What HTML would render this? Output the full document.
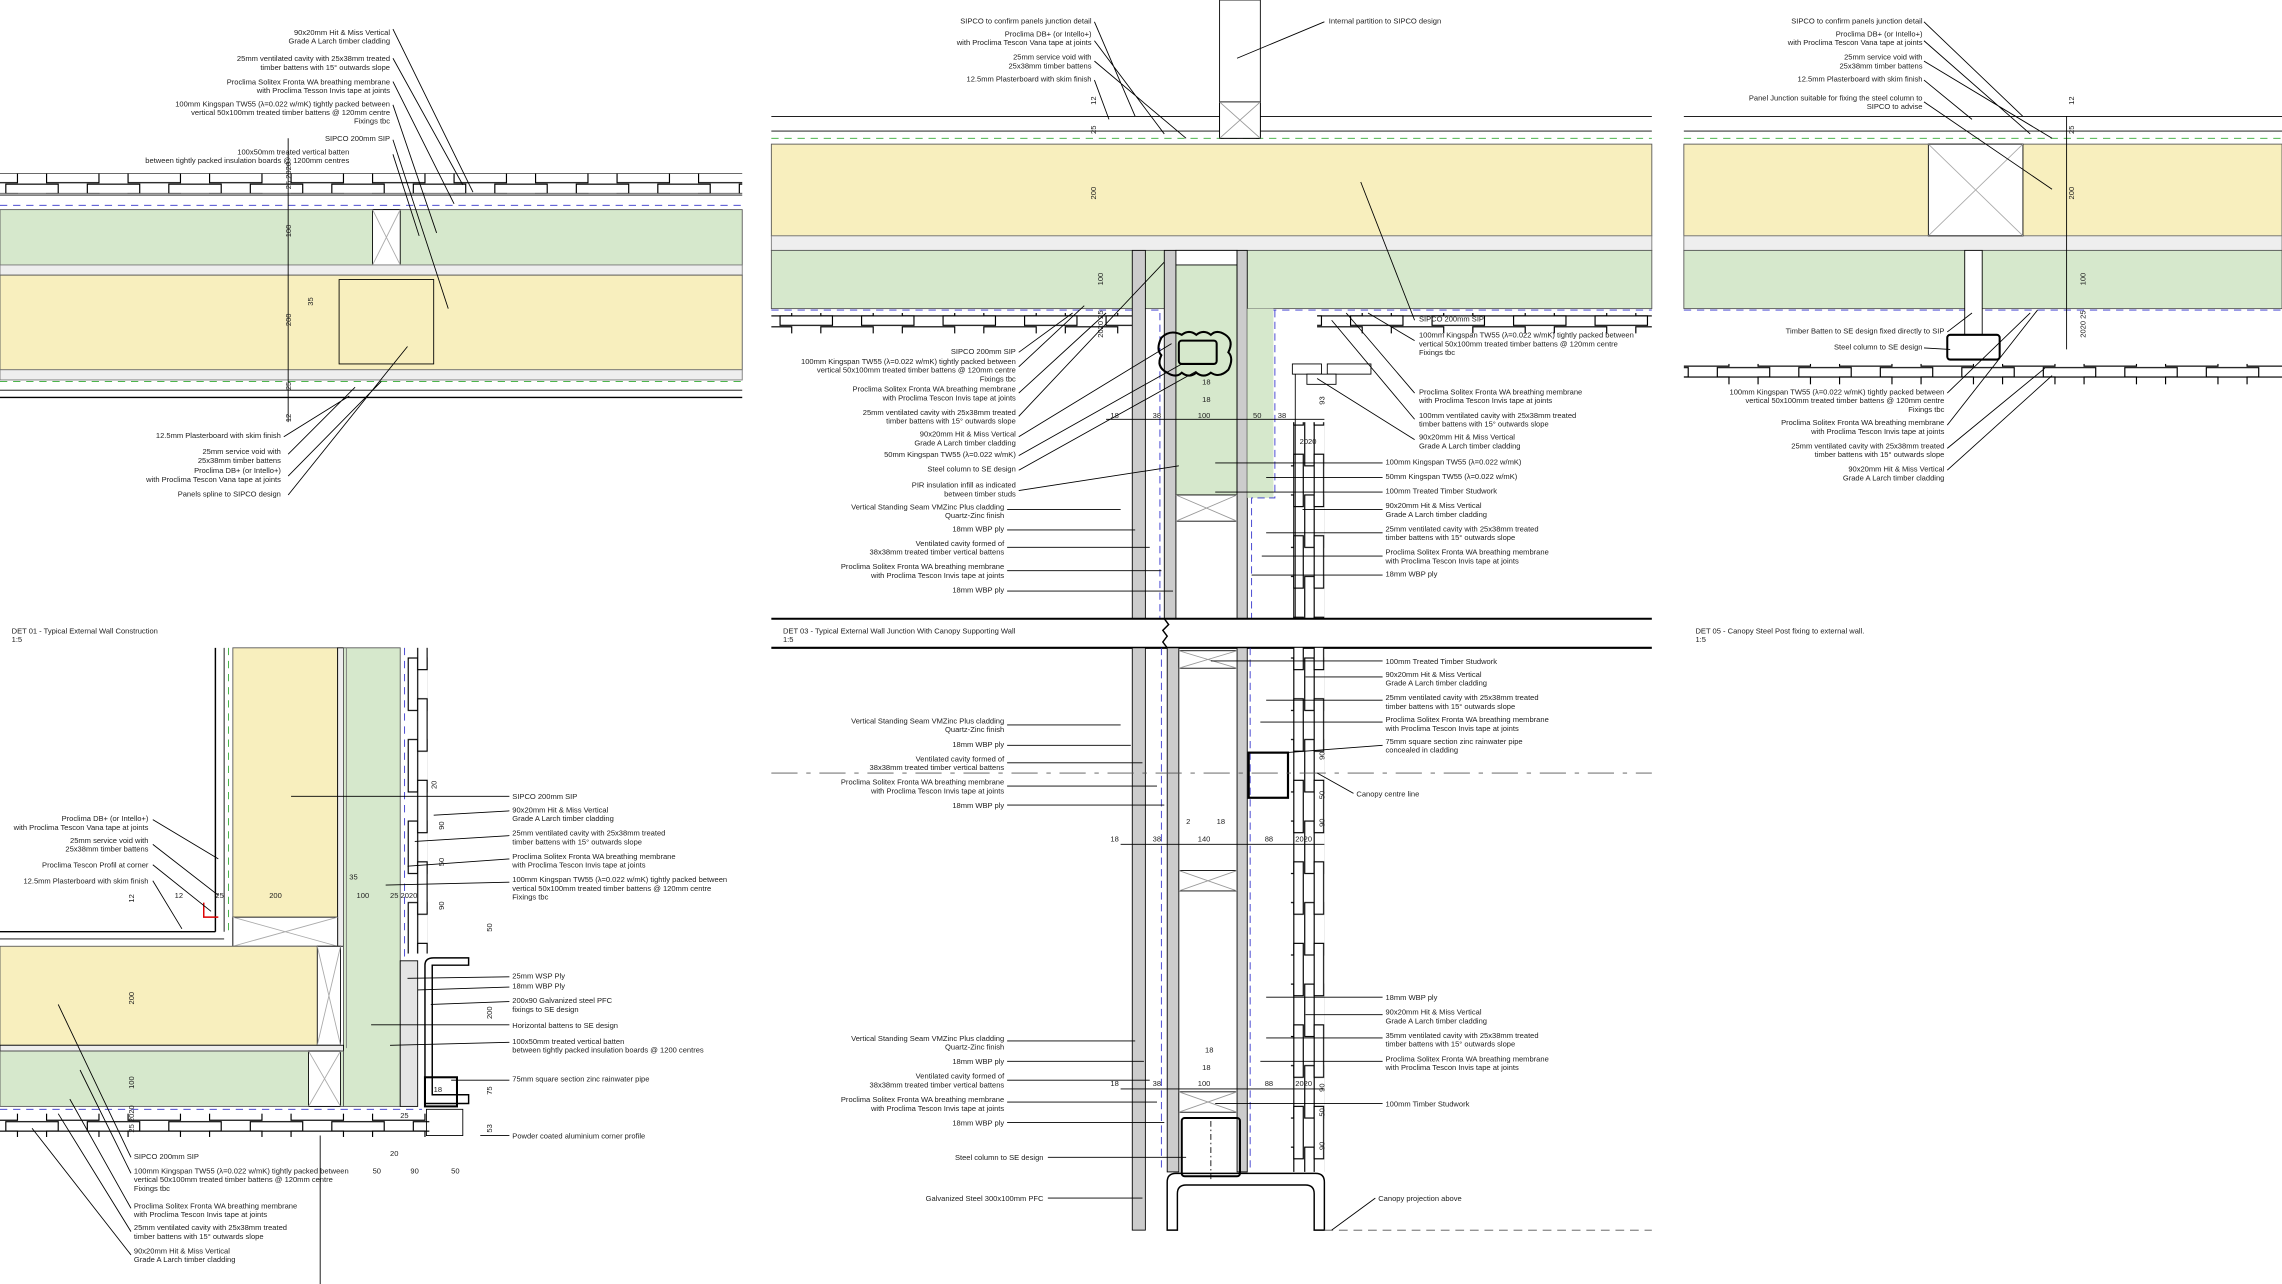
<!DOCTYPE html>
<html><head><meta charset="utf-8"><style>
html,body{margin:0;padding:0;background:#fff;}
svg{display:block;}
text{font-family:"Liberation Sans",sans-serif;font-size:5.2px;fill:#222;}
.r{text-anchor:end;}
.s{font-size:5px;}
</style></head><body>
<svg width="2282" height="1284" viewBox="0 0 1568 882" preserveAspectRatio="none" xmlns="http://www.w3.org/2000/svg">
<defs>
<pattern id="hc" width="56" height="14" patternUnits="userSpaceOnUse">
<rect x="4" y="0.5" width="36" height="6.5" fill="#fff" stroke="#000" stroke-width="0.8"/>
<rect x="-24" y="7" width="36" height="6.5" fill="#fff" stroke="#000" stroke-width="0.8"/>
<rect x="32" y="7" width="36" height="6.5" fill="#fff" stroke="#000" stroke-width="0.8"/>
</pattern>
<pattern id="vc" width="14" height="56" patternUnits="userSpaceOnUse">
<rect x="0.5" y="4" width="6.5" height="36" fill="#fff" stroke="#000" stroke-width="0.8"/>
<rect x="7" y="-24" width="6.5" height="36" fill="#fff" stroke="#000" stroke-width="0.8"/>
<rect x="7" y="32" width="6.5" height="36" fill="#fff" stroke="#000" stroke-width="0.8"/>
</pattern>
</defs>
<g stroke="#000" stroke-width="0.6" fill="none">
<!-- ===== TOP LEFT DET 01 ===== -->
<rect x="0" y="119" width="510" height="14" fill="url(#hc)" stroke="none"/>
<line x1="0" y1="134" x2="510" y2="134"/>
<line x1="0" y1="141" x2="510" y2="141" stroke="#33c" stroke-dasharray="5,4"/>
<rect x="0" y="144" width="510" height="38" fill="#d6e8cc" stroke="#555"/>
<rect x="256" y="144" width="19" height="38" fill="#fff"/>
<path d="M256 144 L275 182 M275 144 L256 182" stroke="#aaa"/>
<rect x="0" y="182" width="510" height="7" fill="#eee" stroke="#777"/>
<rect x="0" y="189" width="510" height="65" fill="#f8efbe" stroke="#555"/>
<rect x="233" y="192" width="65" height="58" fill="#f8efbe"/>
<rect x="0" y="254" width="510" height="7" fill="#eee" stroke="#777"/>
<line x1="0" y1="262" x2="510" y2="262" stroke="#3a3" stroke-dasharray="5,4"/>
<line x1="0" y1="268" x2="510" y2="268"/>
<line x1="0" y1="273" x2="510" y2="273" stroke-width="1"/>
<line x1="198" y1="95" x2="198" y2="290"/>
<path d="M270 20 L325 132 M270 40 L318 127 M270 56 L312 140 M270 72 L300 160 M270 96 L308 212 M270 106 L288 162 M195 300 L240 272 M198 312 L244 266 M198 327 L262 262 M198 340 L280 238"/>
<!-- ===== TOP MIDDLE DET 03 ===== -->
<line x1="530" y1="80" x2="1135" y2="80"/>
<line x1="530" y1="90" x2="1135" y2="90"/>
<line x1="530" y1="95" x2="1135" y2="95" stroke="#3a3" stroke-dasharray="5,4"/>
<rect x="530" y="99" width="605" height="63" fill="#f8efbe" stroke="#555"/>
<rect x="530" y="162" width="605" height="10" fill="#eee" stroke="#777"/>
<rect x="530" y="172" width="605" height="40" fill="#d6e8cc" stroke="#555"/>
<line x1="530" y1="213" x2="1135" y2="213" stroke="#33c" stroke-dasharray="5,4"/>
<rect x="530" y="215" width="250" height="14" fill="url(#hc)" stroke="none"/>
<rect x="905" y="215" width="230" height="14" fill="url(#hc)" stroke="none"/>
<rect x="838" y="0" width="28" height="95" fill="#fff"/>
<rect x="838" y="70" width="28" height="25" fill="#fff"/>
<path d="M838 70 L866 95 M866 70 L838 95" stroke="#999"/>
<rect x="778" y="172" width="9" height="253" fill="#ccc"/>
<rect x="800" y="172" width="8" height="253" fill="#ccc"/>
<rect x="808" y="172" width="42" height="168" fill="#d6e8cc"/>
<rect x="808" y="172" width="42" height="10" fill="#fff"/>
<rect x="850" y="172" width="7" height="253" fill="#ccc"/>
<rect x="857" y="212" width="18" height="130" fill="#d6e8cc" stroke="none"/>
<path d="M797 215 L797 425 M876 213 L876 342 L860 342 L860 425" stroke="#33c" stroke-dasharray="5,3"/>
<rect x="808" y="340" width="42" height="18" fill="#fff"/>
<path d="M808 340 L850 358 M850 340 L808 358" stroke="#999"/>
<path d="M798 232 q-4 8 0 12 q-4 8 4 12 q6 4 10 0 q5 4 10 0 q5 4 10 0 q6 4 12 -2 q4 -8 0 -12 q4 -8 -2 -12 q-6 -4 -10 0 q-5 -4 -10 0 q-5 -4 -10 0 q-8 -4 -14 2z" stroke-width="1.4"/>
<rect x="810" y="234" width="26" height="16" rx="2" stroke-width="1.4"/>
<rect x="888" y="250" width="20" height="7" fill="#fff"/>
<rect x="912" y="250" width="30" height="7" fill="#fff"/>
<rect x="898" y="257" width="20" height="7" fill="#fff"/>
<rect x="887" y="290" width="23" height="135" fill="url(#vc)" stroke="none"/>
<line x1="890" y1="257" x2="890" y2="425"/>
<line x1="530" y1="425" x2="1135" y2="425" stroke-width="1.4"/>
<line x1="530" y1="445" x2="1135" y2="445" stroke-width="1.4"/>
<path d="M800 425 l3 4 -4 4 3 4 -3 4 3 4" stroke-width="1"/>
<rect x="778" y="445" width="9" height="400" fill="#ccc"/>
<rect x="802" y="445" width="8" height="360" fill="#ccc"/>
<rect x="850" y="445" width="7" height="360" fill="#ccc"/>
<path d="M798 445 L798 805 M859 445 L859 805" stroke="#33c" stroke-dasharray="5,3"/>
<rect x="810" y="447" width="40" height="12" fill="#fff"/>
<path d="M810 447 L850 459 M850 447 L810 459" stroke="#999"/>
<rect x="810" y="598" width="40" height="14" fill="#fff"/>
<path d="M810 598 L850 612 M850 598 L810 612" stroke="#999"/>
<rect x="810" y="750" width="40" height="14" fill="#fff"/>
<path d="M810 750 L850 764 M850 750 L810 764" stroke="#999"/>
<rect x="858" y="517" width="27" height="31" stroke-width="1.5"/>
<rect x="812" y="768" width="40" height="40" rx="2" stroke-width="1.4"/>
<line x1="832" y1="770" x2="832" y2="810" stroke-dasharray="4,2,1,2"/>
<path d="M802 845 L802 812 Q802 806 808 806 L904 806 Q910 806 910 812 L910 845 L903 845 L903 820 Q903 814 897 814 L815 814 Q809 814 809 820 L809 845 Z" stroke-width="1"/>
<rect x="887" y="445" width="23" height="360" fill="url(#vc)" stroke="none"/>
<line x1="530" y1="531" x2="1135" y2="531" stroke="#555" stroke-dasharray="18,6,3,6"/>
<line x1="910" y1="845" x2="1135" y2="845" stroke="#555" stroke-dasharray="6,4"/>
<line x1="760" y1="288" x2="910" y2="288"/>
<line x1="770" y1="580" x2="910" y2="580"/>
<line x1="770" y1="748" x2="910" y2="748"/>
<path d="M752 15 L780 80 M752 28 L800 92 M752 42 L815 95 M752 55 L762 82 M910 15 L850 40 M700 242 L737 215 M700 252 L745 210 M700 270 L760 215 M700 286 L800 180 M700 300 L805 236 M700 313 L812 250 M700 323 L822 255 M700 337 L810 320 M692 350 L770 350 M692 364 L780 364 M692 376 L790 376 M692 392 L798 392 M692 406 L806 406 M972 220 L935 125 M972 234 L940 215 M972 270 L925 215 M972 288 L915 220 M972 302 L905 260 M950 318 L835 318 M950 328 L870 328 M950 338 L835 338 M950 350 L895 350 M950 366 L870 366 M950 382 L867 382 M950 395 L860 395 M950 454 L832 454 M950 465 L897 465 M950 481 L870 481 M950 496 L866 496 M950 512 L883 517 M930 545 L905 531 M950 685 L870 685 M950 697 L897 697 M950 713 L870 713 M950 729 L866 729 M950 758 L835 758 M945 823 L915 845 M692 498 L770 498 M692 512 L777 512 M692 524 L785 524 M692 540 L795 540 M692 553 L800 553 M692 715 L780 715 M692 729 L786 729 M692 742 L790 742 M692 757 L795 757 M692 771 L800 771 M720 795 L815 795 M720 823 L785 823"/>
<!-- ===== TOP RIGHT DET 05 ===== -->
<line x1="1157" y1="80" x2="1568" y2="80"/>
<line x1="1157" y1="90" x2="1568" y2="90"/>
<line x1="1157" y1="95" x2="1568" y2="95" stroke="#3a3" stroke-dasharray="5,4"/>
<rect x="1157" y="99" width="411" height="63" fill="#f8efbe" stroke="#555"/>
<rect x="1157" y="162" width="411" height="10" fill="#eee" stroke="#777"/>
<rect x="1157" y="172" width="411" height="40" fill="#d6e8cc" stroke="#555"/>
<line x1="1157" y1="213" x2="1568" y2="213" stroke="#33c" stroke-dasharray="5,4"/>
<rect x="1325" y="99" width="65" height="63" fill="#fff"/>
<path d="M1325 99 L1390 162 M1390 99 L1325 162" stroke="#aaa"/>
<rect x="1350" y="172" width="12" height="58" fill="#fff"/>
<rect x="1338" y="230" width="36" height="17" rx="2" stroke-width="1.4"/>
<rect x="1157" y="250" width="411" height="14" fill="url(#hc)" stroke="none"/>
<line x1="1420" y1="80" x2="1420" y2="240"/>
<path d="M1322 15 L1390 80 M1322 28 L1395 92 M1322 42 L1410 95 M1322 55 L1355 82 M1322 70 L1410 130 M1338 228 L1355 215 M1322 239 L1340 240 M1338 270 L1395 215 M1338 292 L1400 213 M1338 308 L1405 253 M1338 323 L1410 258"/>
<!-- ===== BOTTOM LEFT DET 02 ===== -->
<line x1="148" y1="445" x2="148" y2="640" stroke-width="1"/>
<line x1="154" y1="445" x2="154" y2="640"/>
<line x1="0" y1="640" x2="148" y2="640" stroke-width="1"/>
<line x1="0" y1="645" x2="154" y2="645"/>
<rect x="160" y="445" width="72" height="205" fill="#f8efbe" stroke="#555"/>
<rect x="232" y="445" width="4" height="205" fill="#eee"/>
<rect x="236" y="445" width="39" height="315" fill="#d6e8cc" stroke="#555"/>
<rect x="160" y="630" width="72" height="20" fill="#fff"/>
<path d="M160 630 L232 650 M232 630 L160 650" stroke="#aaa"/>
<line x1="278" y1="445" x2="278" y2="660" stroke="#33c" stroke-dasharray="5,4"/>
<rect x="280" y="445" width="14" height="210" fill="url(#vc)" stroke="none"/>
<line x1="157" y1="445" x2="157" y2="640" stroke="#3a3" stroke-dasharray="5,4"/>
<rect x="0" y="650" width="232" height="68" fill="#f8efbe" stroke="#555"/>
<rect x="218" y="650" width="16" height="68" fill="#fff"/>
<path d="M218 650 L234 718 M234 650 L218 718" stroke="#aaa"/>
<rect x="0" y="718" width="236" height="4" fill="#eee"/>
<rect x="0" y="722" width="236" height="38" fill="#d6e8cc" stroke="#555"/>
<rect x="212" y="722" width="22" height="38" fill="#fff"/>
<path d="M212 722 L234 760 M234 722 L212 760" stroke="#aaa"/>
<line x1="0" y1="762" x2="290" y2="762" stroke="#33c" stroke-dasharray="5,4"/>
<rect x="0" y="765" width="295" height="16" fill="url(#hc)" stroke="none"/>
<rect x="275" y="660" width="12" height="100" fill="#e4e4e4"/>
<path d="M292 758 L292 663 Q292 658 298 658 L322 658 L322 663 L297 663 L297 752 L322 752 L322 758 Z" stroke-width="1"/>
<rect x="292" y="740" width="22" height="20" stroke-width="1.4"/>
<path d="M293 762 L318 762 L318 780 L293 780 Z"/>
<path d="M140 620 L140 630 L150 630" stroke="#d00" stroke-width="1"/>
<line x1="220" y1="780" x2="220" y2="882"/>
<line x1="238" y1="445" x2="238" y2="720" stroke="#777"/>
<path d="M105 563 L150 590 M105 580 L150 615 M105 594 L145 626 M105 605 L125 638 M350 547 L200 547 M350 557 L298 560 M350 574 L285 578 M350 590 L280 595 M350 606 L265 608 M350 671 L280 672 M350 678 L287 680 M350 688 L296 690 M350 704 L255 704 M350 716 L268 718 M350 742 L310 742 M350 780 L330 780 M90 795 L40 690 M90 806 L55 735 M90 830 L48 755 M90 846 L40 765 M90 862 L22 775"/>
</g>
<g class="s">
<text x="200" y="163" transform="rotate(-90 200 163)">100</text>
<text x="200" y="224" transform="rotate(-90 200 224)">200</text>
<text x="200" y="130" transform="rotate(-90 200 130)">25 2020</text>
<text x="200" y="268" transform="rotate(-90 200 268)">25</text>
<text x="200" y="290" transform="rotate(-90 200 290)">12</text>
<text x="215" y="210" transform="rotate(-90 215 210)">35</text>
<text x="753" y="137" transform="rotate(-90 753 137)">200</text>
<text x="758" y="196" transform="rotate(-90 758 196)">100</text>
<text x="753" y="92" transform="rotate(-90 753 92)">25</text>
<text x="753" y="72" transform="rotate(-90 753 72)">12</text>
<text x="758" y="232" transform="rotate(-90 758 232)">2020 25</text>
<text x="1425" y="137" transform="rotate(-90 1425 137)">200</text>
<text x="1433" y="196" transform="rotate(-90 1433 196)">100</text>
<text x="1433" y="232" transform="rotate(-90 1433 232)">2020 25</text>
<text x="1425" y="92" transform="rotate(-90 1425 92)">25</text>
<text x="1425" y="72" transform="rotate(-90 1425 72)">12</text>
<text x="763" y="287">18</text><text x="792" y="287">38</text><text x="823" y="287">100</text><text x="861" y="287">50</text><text x="878" y="287">38</text><text x="893" y="305">2020</text>
<text x="826" y="276">18</text><text x="826" y="264">18</text><text x="910" y="278" transform="rotate(-90 910 278)">93</text>
<text x="763" y="578">18</text><text x="792" y="578">38</text><text x="823" y="578">140</text><text x="869" y="578">88</text><text x="890" y="578">2020</text><text x="815" y="566">2</text><text x="836" y="566">18</text>
<text x="763" y="746">18</text><text x="792" y="746">38</text><text x="823" y="746">100</text><text x="869" y="746">88</text><text x="890" y="746">2020</text><text x="828" y="723">18</text><text x="826" y="735">18</text>
<text x="910" y="522" transform="rotate(-90 910 522)">90</text><text x="910" y="549" transform="rotate(-90 910 549)">50</text><text x="910" y="568" transform="rotate(-90 910 568)">90</text>
<text x="910" y="750" transform="rotate(-90 910 750)">90</text><text x="910" y="767" transform="rotate(-90 910 767)">50</text><text x="910" y="790" transform="rotate(-90 910 790)">90</text>
<text x="185" y="617">200</text><text x="240" y="604">35</text><text x="245" y="617">100</text><text x="120" y="617">12</text><text x="148" y="617">25</text><text x="268" y="617">25 2020</text>
<text x="92" y="620" transform="rotate(-90 92 620)">12</text><text x="92" y="690" transform="rotate(-90 92 690)">200</text><text x="92" y="748" transform="rotate(-90 92 748)">100</text><text x="92" y="778" transform="rotate(-90 92 778)">25 2020</text>
<text x="300" y="542" transform="rotate(-90 300 542)">20</text><text x="305" y="570" transform="rotate(-90 305 570)">90</text><text x="305" y="595" transform="rotate(-90 305 595)">50</text><text x="305" y="625" transform="rotate(-90 305 625)">90</text><text x="338" y="640" transform="rotate(-90 338 640)">50</text><text x="338" y="700" transform="rotate(-90 338 700)">200</text><text x="338" y="752" transform="rotate(-90 338 752)">75</text><text x="338" y="778" transform="rotate(-90 338 778)">53</text>
<text x="298" y="750">18</text><text x="275" y="768">25</text><text x="268" y="794">20</text><text x="256" y="806">50</text><text x="282" y="806">90</text><text x="310" y="806">50</text>
</g>
<text x="8" y="435">DET 01 - Typical External Wall Construction</text><text x="8" y="441">1:5</text>
<text x="538" y="435">DET 03 - Typical External Wall Junction With Canopy Supporting Wall</text><text x="538" y="441">1:5</text>
<text x="1165" y="435">DET 05 - Canopy Steel Post fixing to external wall.</text><text x="1165" y="441">1:5</text>
<g class="r">
<text x="268" y="24">90x20mm Hit &amp; Miss Vertical</text><text x="268" y="30">Grade A Larch timber cladding</text>
<text x="268" y="42">25mm ventilated cavity with 25x38mm treated</text><text x="268" y="48">timber battens with 15° outwards slope</text>
<text x="268" y="58">Proclima Solitex Fronta WA breathing membrane</text><text x="268" y="64">with Proclima Tesson Invis tape at joints</text>
<text x="268" y="73">100mm Kingspan TW55 (λ=0.022 w/mK) tightly packed between</text><text x="268" y="79">vertical 50x100mm treated timber battens @ 120mm centre</text><text x="268" y="85">Fixings tbc</text>
<text x="268" y="97">SIPCO 200mm SIP</text>
<text x="240" y="106">100x50mm treated vertical batten</text><text x="240" y="112">between tightly packed insulation boards @ 1200mm centres</text>
<text x="193" y="301">12.5mm Plasterboard with skim finish</text>
<text x="193" y="312">25mm service void with</text><text x="193" y="318">25x38mm timber battens</text>
<text x="193" y="325">Proclima DB+ (or Intello+)</text><text x="193" y="331">with Proclima Tescon Vana tape at joints</text>
<text x="193" y="341">Panels spline to SIPCO design</text>
<text x="750" y="16">SIPCO to confirm panels junction detail</text>
<text x="750" y="25">Proclima DB+ (or Intello+)</text><text x="750" y="31">with Proclima Tescon Vana tape at joints</text>
<text x="750" y="41">25mm service void with</text><text x="750" y="47">25x38mm timber battens</text>
<text x="750" y="56">12.5mm Plasterboard with skim finish</text>
<text x="698" y="243">SIPCO 200mm SIP</text>
<text x="698" y="250">100mm Kingspan TW55 (λ=0.022 w/mK) tightly packed between</text><text x="698" y="256">vertical 50x100mm treated timber battens @ 120mm centre</text><text x="698" y="262">Fixings tbc</text>
<text x="698" y="269">Proclima Solitex Fronta WA breathing membrane</text><text x="698" y="275">with Proclima Tescon Invis tape at joints</text>
<text x="698" y="285">25mm ventilated cavity with 25x38mm treated</text><text x="698" y="291">timber battens with 15° outwards slope</text>
<text x="698" y="300">90x20mm Hit &amp; Miss Vertical</text><text x="698" y="306">Grade A Larch timber cladding</text>
<text x="698" y="314">50mm Kingspan TW55 (λ=0.022 w/mK)</text>
<text x="698" y="324">Steel column to SE design</text>
<text x="698" y="335">PIR insulation infill as indicated</text><text x="698" y="341">between timber studs</text>
<text x="690" y="350">Vertical Standing Seam VMZinc Plus cladding</text><text x="690" y="356">Quartz-Zinc finish</text>
<text x="690" y="365">18mm WBP ply</text>
<text x="690" y="375">Ventilated cavity formed of</text><text x="690" y="381">38x38mm treated timber vertical battens</text>
<text x="690" y="391">Proclima Solitex Fronta WA breathing membrane</text><text x="690" y="397">with Proclima Tescon Invis tape at joints</text>
<text x="690" y="407">18mm WBP ply</text>
<text x="690" y="497">Vertical Standing Seam VMZinc Plus cladding</text><text x="690" y="503">Quartz-Zinc finish</text>
<text x="690" y="513">18mm WBP ply</text>
<text x="690" y="523">Ventilated cavity formed of</text><text x="690" y="529">38x38mm treated timber vertical battens</text>
<text x="690" y="539">Proclima Solitex Fronta WA breathing membrane</text><text x="690" y="545">with Proclima Tescon Invis tape at joints</text>
<text x="690" y="555">18mm WBP ply</text>
<text x="690" y="715">Vertical Standing Seam VMZinc Plus cladding</text><text x="690" y="721">Quartz-Zinc finish</text>
<text x="690" y="731">18mm WBP ply</text>
<text x="690" y="741">Ventilated cavity formed of</text><text x="690" y="747">38x38mm treated timber vertical battens</text>
<text x="690" y="757">Proclima Solitex Fronta WA breathing membrane</text><text x="690" y="763">with Proclima Tescon Invis tape at joints</text>
<text x="690" y="773">18mm WBP ply</text>
<text x="717" y="797">Steel column to SE design</text>
<text x="717" y="825">Galvanized Steel 300x100mm PFC</text>
<text x="1321" y="16">SIPCO to confirm panels junction detail</text>
<text x="1321" y="25">Proclima DB+ (or Intello+)</text><text x="1321" y="31">with Proclima Tescon Vana tape at joints</text>
<text x="1321" y="41">25mm service void with</text><text x="1321" y="47">25x38mm timber battens</text>
<text x="1321" y="56">12.5mm Plasterboard with skim finish</text>
<text x="1321" y="69">Panel Junction suitable for fixing the steel column to</text><text x="1321" y="75">SIPCO to advise</text>
<text x="1336" y="229">Timber Batten to SE design fixed directly to SIP</text>
<text x="1321" y="240">Steel column to SE design</text>
<text x="1336" y="271">100mm Kingspan TW55 (λ=0.022 w/mK) tightly packed between</text><text x="1336" y="277">vertical 50x100mm treated timber battens @ 120mm centre</text><text x="1336" y="283">Fixings tbc</text>
<text x="1336" y="292">Proclima Solitex Fronta WA breathing membrane</text><text x="1336" y="298">with Proclima Tescon Invis tape at joints</text>
<text x="1336" y="308">25mm ventilated cavity with 25x38mm treated</text><text x="1336" y="314">timber battens with 15° outwards slope</text>
<text x="1336" y="324">90x20mm Hit &amp; Miss Vertical</text><text x="1336" y="330">Grade A Larch timber cladding</text>
<text x="102" y="564">Proclima DB+ (or Intello+)</text><text x="102" y="570">with Proclima Tescon Vana tape at joints</text>
<text x="102" y="579">25mm service void with</text><text x="102" y="585">25x38mm timber battens</text>
<text x="102" y="596">Proclima Tescon Profil at corner</text>
<text x="102" y="607">12.5mm Plasterboard with skim finish</text>
</g>
<text x="913" y="16">Internal partition to SIPCO design</text>
<text x="975" y="221">SIPCO 200mm SIP</text>
<text x="975" y="232">100mm Kingspan TW55 (λ=0.022 w/mK) tightly packed between</text><text x="975" y="238">vertical 50x100mm treated timber battens @ 120mm centre</text><text x="975" y="244">Fixings tbc</text>
<text x="975" y="271">Proclima Solitex Fronta WA breathing membrane</text><text x="975" y="277">with Proclima Tescon Invis tape at joints</text>
<text x="975" y="287">100mm ventilated cavity with 25x38mm treated</text><text x="975" y="293">timber battens with 15° outwards slope</text>
<text x="975" y="302">90x20mm Hit &amp; Miss Vertical</text><text x="975" y="308">Grade A Larch timber cladding</text>
<text x="952" y="319">100mm Kingspan TW55 (λ=0.022 w/mK)</text>
<text x="952" y="329">50mm Kingspan TW55 (λ=0.022 w/mK)</text>
<text x="952" y="339">100mm Treated Timber Studwork</text>
<text x="952" y="349">90x20mm Hit &amp; Miss Vertical</text><text x="952" y="355">Grade A Larch timber cladding</text>
<text x="952" y="365">25mm ventilated cavity with 25x38mm treated</text><text x="952" y="371">timber battens with 15° outwards slope</text>
<text x="952" y="381">Proclima Solitex Fronta WA breathing membrane</text><text x="952" y="387">with Proclima Tescon Invis tape at joints</text>
<text x="952" y="396">18mm WBP ply</text>
<text x="952" y="456">100mm Treated Timber Studwork</text>
<text x="952" y="465">90x20mm Hit &amp; Miss Vertical</text><text x="952" y="471">Grade A Larch timber cladding</text>
<text x="952" y="481">25mm ventilated cavity with 25x38mm treated</text><text x="952" y="487">timber battens with 15° outwards slope</text>
<text x="952" y="496">Proclima Solitex Fronta WA breathing membrane</text><text x="952" y="502">with Proclima Tescon Invis tape at joints</text>
<text x="952" y="511">75mm square section zinc rainwater pipe</text><text x="952" y="517">concealed in cladding</text>
<text x="932" y="547">Canopy centre line</text>
<text x="952" y="687">18mm WBP ply</text>
<text x="952" y="697">90x20mm Hit &amp; Miss Vertical</text><text x="952" y="703">Grade A Larch timber cladding</text>
<text x="952" y="713">35mm ventilated cavity with 25x38mm treated</text><text x="952" y="719">timber battens with 15° outwards slope</text>
<text x="952" y="729">Proclima Solitex Fronta WA breathing membrane</text><text x="952" y="735">with Proclima Tescon Invis tape at joints</text>
<text x="952" y="760">100mm Timber Studwork</text>
<text x="947" y="825">Canopy projection above</text>
<text x="352" y="549">SIPCO 200mm SIP</text>
<text x="352" y="558">90x20mm Hit &amp; Miss Vertical</text><text x="352" y="564">Grade A Larch timber cladding</text>
<text x="352" y="574">25mm ventilated cavity with 25x38mm treated</text><text x="352" y="580">timber battens with 15° outwards slope</text>
<text x="352" y="590">Proclima Solitex Fronta WA breathing membrane</text><text x="352" y="596">with Proclima Tescon Invis tape at joints</text>
<text x="352" y="606">100mm Kingspan TW55 (λ=0.022 w/mK) tightly packed between</text><text x="352" y="612">vertical 50x100mm treated timber battens @ 120mm centre</text><text x="352" y="618">Fixings tbc</text>
<text x="352" y="672">25mm WSP Ply</text>
<text x="352" y="679">18mm WBP Ply</text>
<text x="352" y="689">200x90 Galvanized steel PFC</text><text x="352" y="695">fixings to SE design</text>
<text x="352" y="706">Horizontal battens to SE design</text>
<text x="352" y="717">100x50mm treated vertical batten</text><text x="352" y="723">between tightly packed insulation boards @ 1200 centres</text>
<text x="352" y="743">75mm square section zinc rainwater pipe</text>
<text x="352" y="782">Powder coated aluminium corner profile</text>
<text x="92" y="796">SIPCO 200mm SIP</text>
<text x="92" y="806">100mm Kingspan TW55 (λ=0.022 w/mK) tightly packed between</text><text x="92" y="812">vertical 50x100mm treated timber battens @ 120mm centre</text><text x="92" y="818">Fixings tbc</text>
<text x="92" y="830">Proclima Solitex Fronta WA breathing membrane</text><text x="92" y="836">with Proclima Tescon Invis tape at joints</text>
<text x="92" y="845">25mm ventilated cavity with 25x38mm treated</text><text x="92" y="851">timber battens with 15° outwards slope</text>
<text x="92" y="861">90x20mm Hit &amp; Miss Vertical</text><text x="92" y="867">Grade A Larch timber cladding</text>
</svg>
</body></html>
